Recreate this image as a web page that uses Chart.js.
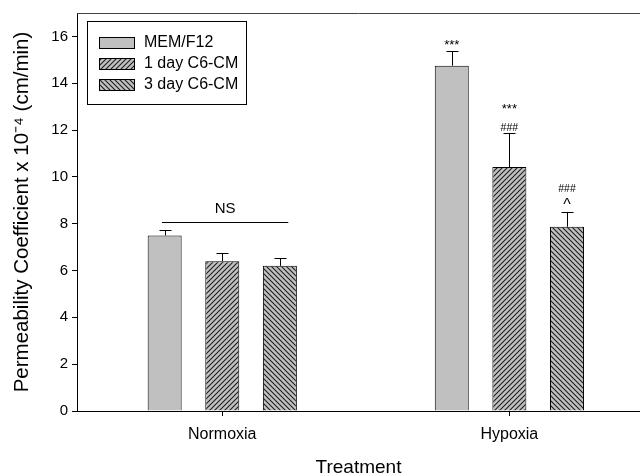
<!DOCTYPE html>
<html>
<head>
<meta charset="utf-8">
<script src="https://cdn.jsdelivr.net/npm/chart.js@4.4.1/dist/chart.umd.min.js"></script>
<style>
  html, body { margin: 0; background: #fff; }
  #wrap { width: 640px; height: 475px; }
</style>
</head>
<body>
<div id="wrap"><canvas id="grafico"></canvas></div>
<script>
// dados
const groups = ["Normoxia", "Hypoxia"];
const seriesNames = ["MEM/F12", "1 day C6-CM", "3 day C6-CM"];
const memValues = [7.5, 14.75];
const day1Values = [6.4, 10.42];
const day3Values = [6.2, 7.87];
const memErrors = [0.25, 0.63];
const day1Errors = [0.35, 1.45];
const day3Errors = [0.35, 0.65];
const memMarks = [[], ["***"]];
const day1Marks = [[], ["###", "***"]];
const day3Marks = [[], ["^", "###"]];
const yTicks = [0, 2, 4, 6, 8, 10, 12, 14, 16];
const nsLabel = "NS";
const nsBracket = { group: 0, value: 8.09, from: -0.21, to: 0.23 };

const FONT = "'Liberation Sans', Arial, sans-serif";
const GRAY = "#c0c0c0";

function hatch(dir) {
  const c = document.createElement("canvas");
  c.width = c.height = 5;
  const g = c.getContext("2d");
  g.fillStyle = GRAY;
  g.fillRect(0, 0, 5, 5);
  g.strokeStyle = "#1e1e1e";
  g.lineWidth = 1.1;
  g.beginPath();
  if (dir > 0) {
    g.moveTo(-1, 6); g.lineTo(6, -1);
    g.moveTo(-1, 1); g.lineTo(1, -1);
    g.moveTo(4, 6); g.lineTo(6, 4);
  } else {
    g.moveTo(-1, -1); g.lineTo(6, 6);
    g.moveTo(4, -1); g.lineTo(6, 1);
    g.moveTo(-1, 4); g.lineTo(1, 6);
  }
  g.stroke();
  return g.createPattern(c, "repeat");
}

function toPoints(values) {
  return values.map((v, i) => ({ x: i, y: v }));
}

const errorBarsPlugin = {
  id: "errorBars",
  afterDatasetsDraw(chart) {
    const { ctx, scales } = chart;
    ctx.save();
    ctx.strokeStyle = "#000";
    ctx.fillStyle = "#000";
    ctx.lineWidth = 1;
    ctx.textAlign = "center";
    ctx.textBaseline = "alphabetic";
    chart.data.datasets.forEach((ds, d) => {
      const meta = chart.getDatasetMeta(d);
      meta.data.forEach((bar, i) => {
        const top = Math.round(scales.y.getPixelForValue(ds.data[i].y + ds.errors[i])) + 0.5;
        const x = Math.round(bar.x) + 0.5;
        ctx.beginPath();
        ctx.moveTo(x, bar.y);
        ctx.lineTo(x, top);
        ctx.moveTo(x - 6, top);
        ctx.lineTo(x + 6, top);
        ctx.stroke();

        let yb = top - 3;
        (ds.marks[i] || []).forEach((m) => {
          if (m === "^") ctx.font = `16px ${FONT}`;
          else if (m === "###") ctx.font = `10.5px ${FONT}`;
          else ctx.font = `13px ${FONT}`;
          ctx.fillText(m, bar.x, yb);
          yb -= 18;
        });
      });
    });

    // NS
    const xs = scales.x;
    const yNs = Math.round(scales.y.getPixelForValue(nsBracket.value)) + 0.5;
    const x1 = xs.getPixelForValue(nsBracket.group + nsBracket.from);
    const x2 = xs.getPixelForValue(nsBracket.group + nsBracket.to);
    ctx.beginPath();
    ctx.moveTo(x1, yNs);
    ctx.lineTo(x2, yNs);
    ctx.stroke();
    ctx.font = `15px ${FONT}`;
    ctx.fillText(nsLabel, (x1 + x2) / 2, yNs - 9.5);
    ctx.restore();
  }
};

const frameLegendPlugin = {
  id: "frameLegend",
  afterDraw(chart) {
    const { ctx, chartArea } = chart;
    ctx.save();
    // linha superior do quadro
    ctx.strokeStyle = "#444";
    ctx.lineWidth = 1;
    ctx.beginPath();
    ctx.moveTo(chartArea.left, chartArea.top + 0.5);
    ctx.lineTo(chartArea.right, chartArea.top + 0.5);
    ctx.stroke();

    // legenda com moldura
    const left = Math.round(chartArea.left + 10) + 0.5;
    const top = Math.round(chartArea.top + 8) + 0.5;
    ctx.strokeStyle = "#000";
    ctx.strokeRect(left, top, 159, 83);
    ctx.font = `16px ${FONT}`;
    ctx.textAlign = "left";
    ctx.textBaseline = "middle";
    chart.data.datasets.forEach((ds, i) => {
      const cy = top + 21 + i * 21;
      const sx = left + 12;
      const sy = Math.round(cy - 5.5) + 0.5;
      ctx.fillStyle = ds.backgroundColor;
      ctx.fillRect(sx, sy, 35, 11);
      ctx.strokeRect(sx, sy, 35, 11);
      ctx.fillStyle = "#000";
      ctx.fillText(ds.label, left + 56.5, cy);
    });
    ctx.restore();
  }
};

const barStyle = {
  borderColor: "#000",
  borderWidth: 1,
  categoryPercentage: 0.602,
  barPercentage: 0.59
};

new Chart(document.getElementById("grafico"), {
  type: "bar",
  data: {
    datasets: [
      { label: seriesNames[0], data: toPoints(memValues), errors: memErrors, marks: memMarks, backgroundColor: GRAY, ...barStyle },
      { label: seriesNames[1], data: toPoints(day1Values), errors: day1Errors, marks: day1Marks, backgroundColor: hatch(1), ...barStyle },
      { label: seriesNames[2], data: toPoints(day3Values), errors: day3Errors, marks: day3Marks, backgroundColor: hatch(-1), ...barStyle }
    ]
  },
  options: {
    responsive: true,
    maintainAspectRatio: false,
    animation: false,
    layout: { padding: { top: 7, right: 0, left: 0, bottom: 0 } },
    plugins: {
      legend: { display: false },
      tooltip: { enabled: false }
    },
    scales: {
      x: {
        type: "linear",
        min: -0.506,
        max: 1.455,
        offset: false,
        afterBuildTicks: (s) => { s.ticks = groups.map((_, i) => ({ value: i })); },
        afterFit: (s) => { s.height = 64; },
        ticks: {
          callback: (v) => groups[v] ?? "",
          autoSkip: false,
          maxRotation: 0,
          padding: 9,
          color: "#000",
          font: { family: FONT, size: 16 }
        },
        grid: { drawOnChartArea: false, offset: false, tickLength: 5, color: "#000" },
        border: { color: "#000" },
        title: {
          display: true,
          text: "Treatment",
          color: "#000",
          font: { family: FONT, size: 19, lineHeight: 0.75 },
          padding: { top: 0, bottom: 0 }
        }
      },
      y: {
        min: 0,
        max: 17,
        afterBuildTicks: (s) => { s.ticks = yTicks.map((v) => ({ value: v })); },
        afterFit: (s) => { s.width = 77; },
        ticks: { color: "#000", padding: 4, font: { family: FONT, size: 15 } },
        grid: { drawOnChartArea: false, tickLength: 5, color: "#000" },
        border: { color: "#000" },
        title: {
          display: true,
          text: "Permeability Coefficient x 10\u207B\u2074 (cm/min)",
          color: "#000",
          font: { family: FONT, size: 20.5 },
          padding: { top: 10, bottom: 0 }
        }
      }
    }
  },
  plugins: [errorBarsPlugin, frameLegendPlugin]
});
</script>
</body>
</html>
